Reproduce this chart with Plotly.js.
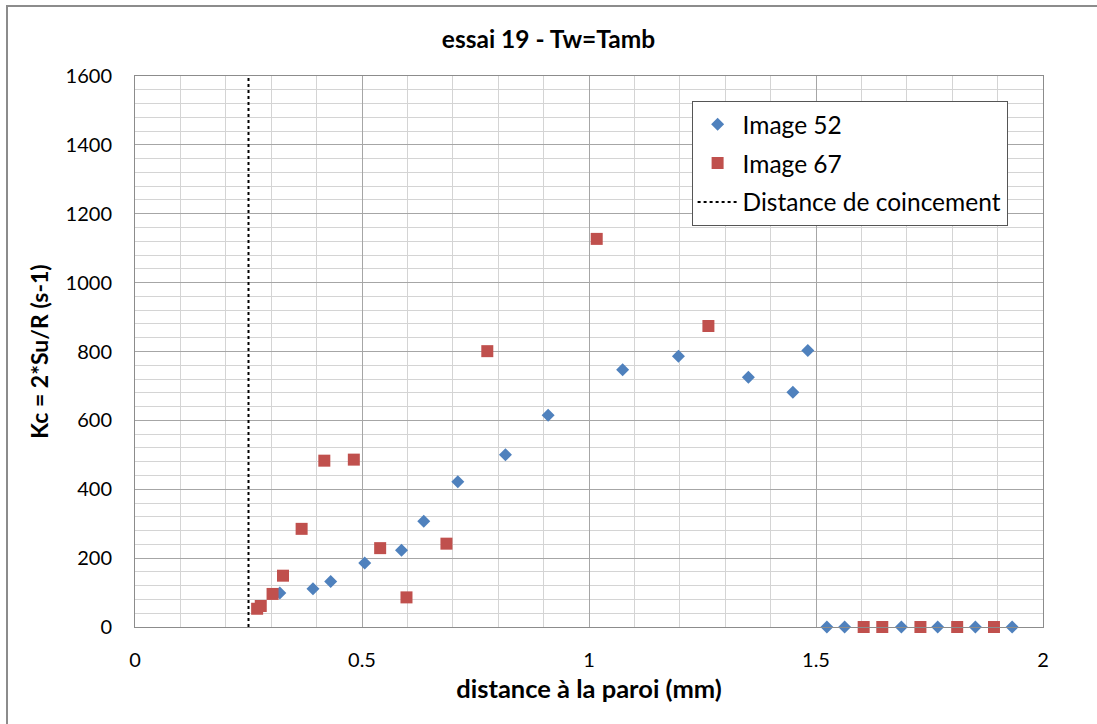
<!DOCTYPE html>
<html>
<head>
<meta charset="utf-8">
<script src="https://cdn.plot.ly/plotly-3.0.1.min.js"></script>
<style>
  html, body { margin: 0; padding: 0; background: #fff; overflow: hidden; }
  #chart { width: 1097px; height: 724px; }
  #frame { position: absolute; left: 6px; top: 5px; width: 1100px; height: 730px; border: 2px solid #8c8c8c; pointer-events: none; }
</style>
</head>
<body>
<div id="chart"></div>
<div id="frame"></div>
<script>
// Image 52 (blue diamonds)
const x52 = [0.319, 0.392, 0.431, 0.506, 0.587, 0.636, 0.711, 0.816, 0.910, 1.074, 1.197, 1.351, 1.449, 1.482, 1.524, 1.563, 1.688, 1.768, 1.851, 1.932];
const y52 = [99, 111, 132, 186, 223, 307, 422, 500, 615, 747, 786, 725, 682, 803, 0, 0, 0, 0, 0, 0];
// Image 67 (red squares)
const x67 = [0.269, 0.277, 0.303, 0.326, 0.367, 0.417, 0.482, 0.540, 0.598, 0.686, 0.776, 1.017, 1.263, 1.605, 1.646, 1.730, 1.811, 1.892];
const y67 = [53, 61, 96, 149, 285, 483, 486, 229, 86, 242, 801, 1127, 874, 0, 0, 0, 0, 0];
// Distance de coincement
const xCoinc = [0.25, 0.25];
const yCoinc = [0, 1600];

const names = ['Image 52', 'Image 67', 'Distance de coincement'];
const titleText = 'essai 19 - Tw=Tamb';
const xTitle = 'distance à la paroi (mm)';
const yTitle = 'Kc = 2*Su/R (s-1)';

const FONT = 'Lato, "Open Sans", sans-serif';

const traces = [
  { x: x52, y: y52, name: names[0], mode: 'markers', type: 'scatter', legendgroup: 'a', cliponaxis: false,
    marker: { symbol: 'diamond', size: 10, color: '#4F81BD' } },
  { x: x67, y: y67, name: names[1], mode: 'markers', type: 'scatter', legendgroup: 'b', cliponaxis: false,
    marker: { symbol: 'square', size: 12, color: '#C0504D' } },
  { x: xCoinc, y: yCoinc, name: names[2], mode: 'lines', type: 'scatter', legendgroup: 'c',
    line: { color: '#000', width: 2, dash: 'dot' } }
];

const layout = {
  width: 1097, height: 724,
  margin: { l: 135, r: 54, t: 76, b: 97 },
  paper_bgcolor: '#fff', plot_bgcolor: '#fff',
  font: { family: FONT, size: 20, color: '#000' },
  title: { text: '<b>' + titleText + '</b>', x: 0.5, xanchor: 'center', y: 0.945, yanchor: 'middle',
           font: { family: FONT, size: 24.5, color: '#000' } },
  xaxis: {
    range: [0, 2], dtick: 0.5, tick0: 0, showgrid: true, gridcolor: '#a6a6a6', gridwidth: 1,
    minor: { dtick: 0.1, showgrid: true, gridcolor: '#d4d4d4', gridwidth: 1 },
    showline: true, linecolor: '#8c8c8c', linewidth: 1, mirror: true, zeroline: false,
    ticks: '', ticklabelstandoff: 15,
    tickfont: { family: FONT, size: 20, color: '#000' },
    title: { text: '<b>' + xTitle + '</b>', standoff: 10, font: { family: FONT, size: 25.5, color: '#000' } }
  },
  yaxis: {
    range: [0, 1600], dtick: 200, tick0: 0, showgrid: true, gridcolor: '#a6a6a6', gridwidth: 1,
    minor: { dtick: 40, showgrid: true, gridcolor: '#d4d4d4', gridwidth: 1 },
    showline: true, linecolor: '#8c8c8c', linewidth: 1, mirror: true, zeroline: false,
    ticks: '', ticklabelstandoff: 18,
    tickfont: { family: FONT, size: 20, color: '#000' },
    title: { text: '<b>' + yTitle + '</b>', standoff: 10, font: { family: FONT, size: 23, color: '#000' } }
  },
  showlegend: true,
  legend: {
    x: 0.613, y: 0.955, xanchor: 'left', yanchor: 'top',
    bgcolor: '#fff', bordercolor: '#555', borderwidth: 1,
    font: { family: FONT, size: 24.5, color: '#000' },
    tracegroupgap: 4, itemwidth: 40
  }
};

Plotly.newPlot('chart', traces, layout, { displayModeBar: false, staticPlot: true });
</script>
</body>
</html>
